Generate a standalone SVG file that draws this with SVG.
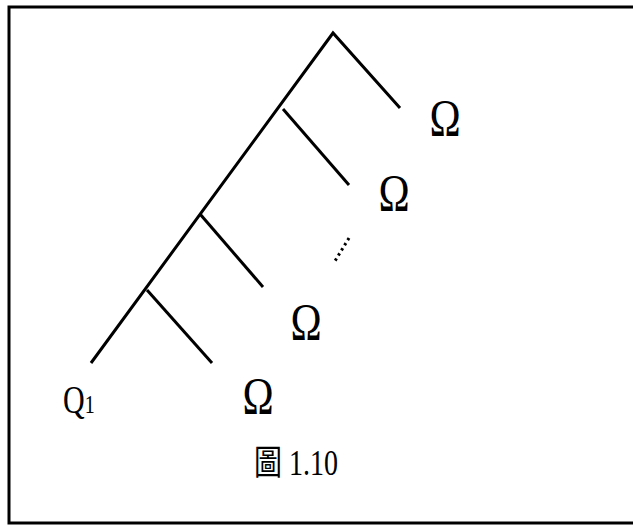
<svg xmlns="http://www.w3.org/2000/svg" width="633" height="526" viewBox="0 0 633 526">
<style>
.ln{stroke:#000;stroke-width:3;fill:none;stroke-linecap:butt}
.t{font-family:"Liberation Serif","Times New Roman","Noto Sans CJK TC",serif;fill:#000}
.om{font-size:42px;text-anchor:middle}
</style>
<rect x="0" y="0" width="633" height="526" fill="#fff"/>
<rect x="9" y="7" width="630" height="516" fill="none" stroke="#000" stroke-width="3"/>
<g id="connectors">
<path class="ln" d="M91 363 L333 33 L400 108"/>
<path class="ln" d="M147 290 L212 363"/>
<path class="ln" d="M200 214 L263 287"/>
<path class="ln" d="M283 109 L349 185"/>
<path d="M349 238 L335 261" stroke="#000" stroke-width="3" stroke-dasharray="2.5 3.5" fill="none"/>
</g>
<g id="q1"><text class="t" transform="translate(63,413) scale(1,1.3)" font-size="30">Q<tspan font-size="20">1</tspan></text></g>
<g id="omega1"><text class="t om" transform="translate(445,136) scale(1,1.28)">Ω</text></g>
<g id="omega2"><text class="t om" transform="translate(394,211) scale(1,1.28)">Ω</text></g>
<g id="omega3"><text class="t om" transform="translate(306,340) scale(1,1.28)">Ω</text></g>
<g id="omega4"><text class="t om" transform="translate(258,414) scale(1,1.28)">Ω</text></g>
<g id="caption"><text class="t" transform="translate(254,475) scale(1,1.25)" font-size="28">圖 1.10</text></g>
</svg>
